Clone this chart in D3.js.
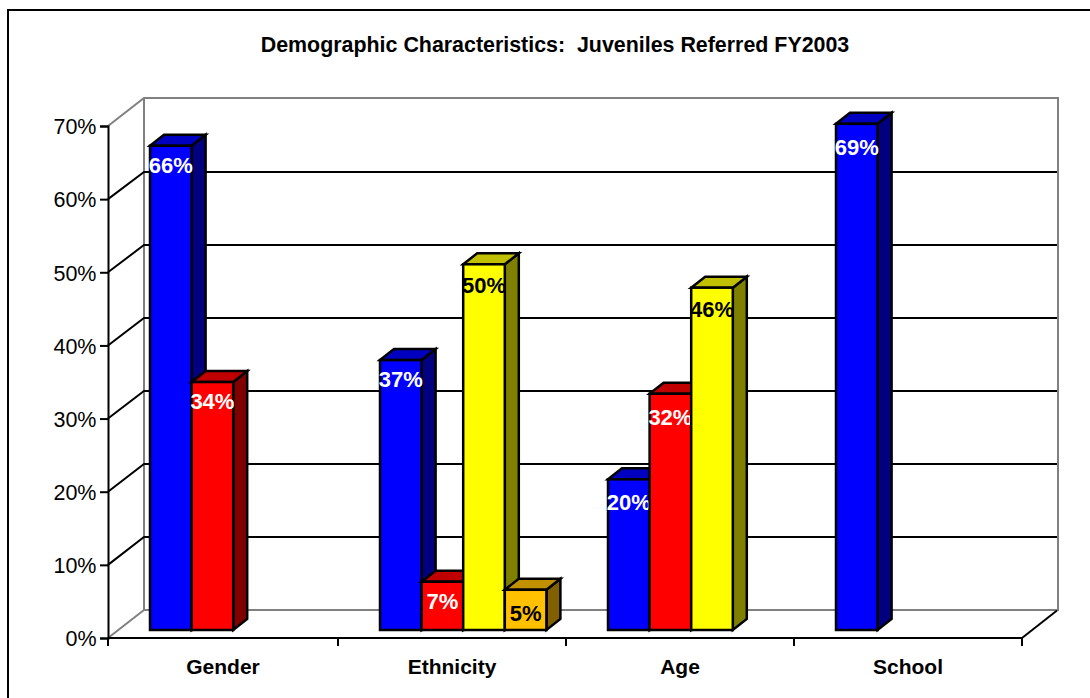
<!DOCTYPE html>
<html><head><meta charset="utf-8">
<script src="https://cdn.jsdelivr.net/npm/d3@7/dist/d3.min.js"></script>
<style>html,body{margin:0;padding:0;background:#fff}svg{display:block}text{font-family:"Liberation Sans",Arial,sans-serif}</style>
</head><body><svg id="c" width="1090" height="698"></svg>
<script>
const title = "Demographic Characteristics:  Juveniles Referred FY2003";
const categories = ["Gender","Ethnicity","Age","School"];
const tickValues = [0,10,20,30,40,50,60,70];
const seriesIndex = [0,1,2,3];
const genderValues = [66.2,33.9];
const ethnicityValues = [36.9,6.6,50,5.5];
const ageValues = [20.6,32.3,46.8];
const schoolValues = [69.2];
const genderLabels = ["66%","34%"];
const ethnicityLabels = ["37%","7%","50%","5%"];
const ageLabels = ["20%","32%","46%"];
const schoolLabels = ["69%"];
const allValues = [genderValues,ethnicityValues,ageValues,schoolValues];
const allLabels = [genderLabels,ethnicityLabels,ageLabels,schoolLabels];
const faces = [
 {front:"#0000ff",top:"#0000c0",side:"#000080",text:"#fff"},
 {front:"#ff0000",top:"#c00000",side:"#800000",text:"#fff"},
 {front:"#ffff00",top:"#c0c000",side:"#808000",text:"#000"},
 {front:"#ffc000",top:"#c09000",side:"#806000",text:"#000"}
];
// vertical placement of each data label below its bar's top edge (px)
const labelDrop = {"66%":27,"34%":27,"37%":27,"7%":27,"50%":29,"5%":31,"20%":31,"32%":31,"46%":29,"69%":31};
const svg = d3.select("#c");
const x0=108,x1=1022,yBase=638,yTop=126,dx=36,dy=-28,barBase=630;
const x = d3.scaleOrdinal().domain(categories).range([108,338,566,794]);
const y = d3.scaleLinear().domain([0,70]).range([yBase,yTop]);
const bw = 41.6, bdx=14, bdy=-11;
const slot = d3.scaleLinear().domain([0,1]).range([42,42+bw]);
const barH = v => yBase - y(v);

// chart frame
svg.append("path").attr("d","M1090,10H8V698").attr("fill","none").attr("stroke","#000").attr("stroke-width",2);

svg.append("text").attr("x",555).attr("y",52).attr("text-anchor","middle").attr("font-size",21.4).attr("font-weight","bold").attr("xml:space","preserve").style("white-space","pre").text(title);

// walls
const G = svg.append("g");
G.append("path").attr("d",`M${x0},${yTop}L${x0+dx},${yTop+dy}H${x1+dx}V${yBase+dy}H${x0+dx}V${yTop+dy}M${x0+dx},${yBase+dy}L${x0},${yBase}`)
 .attr("fill","none").attr("stroke","#808080").attr("stroke-width",2);
// gridlines
tickValues.filter(t=>t>0&&t<70).forEach(t=>{
  const yy=Math.round(y(t)+dy+0.4);
  G.append("path").attr("d",`M${x0},${y(t)}L${x0+dx},${yy}H${x1+dx-1}`).attr("fill","none").attr("stroke","#000").attr("stroke-width",2);
});
G.append("line").attr("x1",x1).attr("y1",yBase).attr("x2",x1+dx-1).attr("y2",yBase+dy+0.5).attr("stroke","#000").attr("stroke-width",2);

// axes
const yAxis = d3.axisLeft(y).tickValues(tickValues).tickFormat(d=>d+"%").tickSize(8).tickPadding(3);
const ya = svg.append("g").attr("transform",`translate(${x0},0)`).call(yAxis);
ya.selectAll("path,line").attr("stroke","#000").attr("stroke-width",2);
ya.selectAll("text").attr("font-size",21.5).attr("fill","#000").attr("font-family","Liberation Sans").attr("dx",-0.5).attr("dy","0.36em");
const xa = svg.append("g").attr("transform",`translate(0,${yBase})`);
xa.append("path").attr("stroke","#000").attr("stroke-width",2).attr("fill","none").attr("d",`M${x0},0H${x1}`);
[...categories.map(c=>x(c)),x1].forEach(px=>xa.append("line").attr("x1",px).attr("x2",px).attr("y1",0).attr("y2",8).attr("stroke","#000").attr("stroke-width",2));
const nextTick = i => i<categories.length-1 ? x(categories[i+1]) : x1;
xa.selectAll("text").data(categories).join("text").attr("x",(c,i)=>(x(c)+nextTick(i))/2).attr("y",36).attr("text-anchor","middle")
 .attr("font-size",21).attr("font-weight","bold").attr("fill","#000").text(c=>c);

// bars
const bars = categories.flatMap((c,ci)=>allValues[ci].map((v,i)=>({c,i,v,label:allLabels[ci][i]})));
const bar = svg.append("g").selectAll("g").data(bars).join("g");
function style(s){return s.attr("stroke","#000").attr("stroke-width",2.5).attr("stroke-linejoin","miter");}
const L = d=>x(d.c)+slot(seriesIndex[d.i]), T = d=>barBase-barH(d.v);
style(bar.append("path").attr("fill",d=>faces[d.i].side)
 .attr("d",d=>`M${L(d)+bw},${T(d)}l${bdx},${bdy}V${barBase+bdy}l${-bdx},${-bdy}Z`));
style(bar.append("path").attr("fill",d=>faces[d.i].top)
 .attr("d",d=>`M${L(d)},${T(d)}l${bdx},${bdy}h${bw}l${-bdx},${-bdy}Z`));
style(bar.append("rect").attr("fill",d=>faces[d.i].front)
 .attr("x",L).attr("y",T).attr("width",bw).attr("height",d=>barH(d.v)));
bar.append("text").attr("x",d=>L(d)+bw/2).attr("y",d=>T(d)+labelDrop[d.label]).attr("text-anchor","middle")
 .attr("font-size",22).attr("font-weight","bold").attr("fill",d=>faces[d.i].text).text(d=>d.label);
</script></body></html>
